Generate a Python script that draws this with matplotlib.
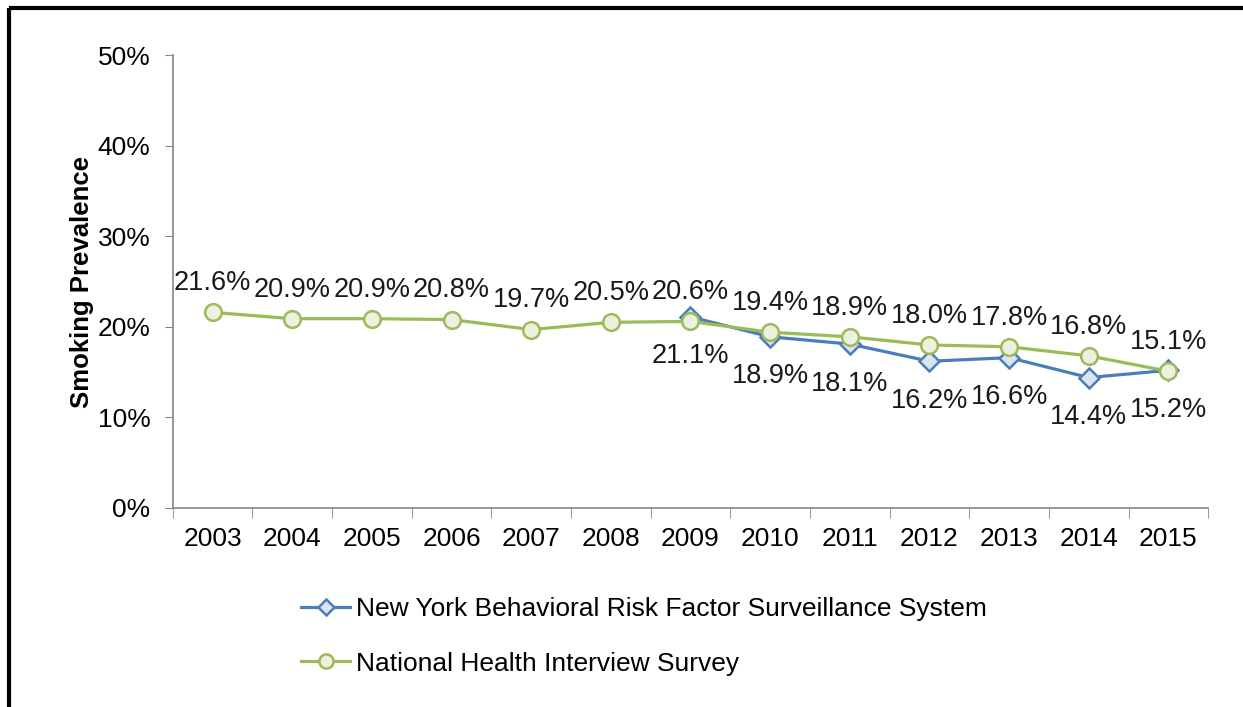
import numpy as np
import matplotlib.pyplot as plt
from matplotlib.lines import Line2D

years = ['2003', '2004', '2005', '2006', '2007', '2008', '2009',
         '2010', '2011', '2012', '2013', '2014', '2015']
nhis = [21.6, 20.9, 20.9, 20.8, 19.7, 20.5, 20.6, 19.4, 18.9, 18.0, 17.8, 16.8, 15.1]
ny_years = ['2009', '2010', '2011', '2012', '2013', '2014', '2015']
ny_brfss = [21.1, 18.9, 18.1, 16.2, 16.6, 14.4, 15.2]

ny_label = 'New York Behavioral Risk Factor Surveillance System'
nhis_label = 'National Health Interview Survey'

plt.rcParams['font.family'] = ['Liberation Sans', 'DejaVu Sans']

fig = plt.figure(figsize=(12.43, 7.07), dpi=100)
ax = fig.add_axes([0.139, 0.2815, 0.833, 0.6405])

x = np.arange(len(years))
ny_x = [years.index(y) for y in ny_years]

ax.plot(ny_x, ny_brfss, color='#4a7ebb', lw=2.3, marker='D', ms=10,
        mfc='#dbe5f1', mec='#4a7ebb', mew=1.8, label=ny_label, zorder=3)
ax.plot(x, nhis, color='#9bbb59', lw=2.3, marker='o', ms=12,
        mfc='#ebf1de', mec='#9bbb59', mew=1.8, label=nhis_label, zorder=4)

for xi, v in zip(x, nhis):
    ax.annotate(f'{v:.1f}%', (xi, v), xytext=(0, 21), textcoords='offset points',
                ha='center', va='center', fontsize=19.5, color='#1a1a1a')
for xi, v in zip(ny_x, ny_brfss):
    ax.annotate(f'{v:.1f}%', (xi, v), xytext=(0, -28.5), textcoords='offset points',
                ha='center', va='center', fontsize=19.5, color='#1a1a1a')

ax.set_xlim(-0.5, len(years) - 0.5)
ax.set_ylim(0, 50)
ax.set_yticks(range(0, 51, 10))
ax.set_yticklabels([f'{t}%' for t in range(0, 51, 10)])
ax.set_xticks(x)
ax.set_xticklabels(years)
ax.set_xticks(np.arange(-0.5, len(years)), minor=True)
ax.tick_params(axis='x', which='major', length=0, pad=14, labelsize=19)
ax.tick_params(axis='x', which='minor', length=7, color='#868686', direction='out')
ax.tick_params(axis='y', length=6, color='#868686', labelsize=19, pad=10)

for s in ['top', 'right']:
    ax.spines[s].set_visible(False)
for s in ['left', 'bottom']:
    ax.spines[s].set_color('#868686')
    ax.spines[s].set_linewidth(1.2)

ax.set_ylabel('Smoking Prevalence', fontsize=18.5, fontweight='bold', labelpad=3)

leg = fig.legend(loc='upper left', bbox_to_anchor=(0.234, 0.170), frameon=False,
                 fontsize=19, handlelength=1.85, handletextpad=0.2, labelspacing=1.15,
                 borderaxespad=0, markerscale=0.85)

fig.add_artist(Line2D([0.0076, 1.0], [0.988, 0.988], color='black', lw=3,
                      transform=fig.transFigure, solid_capstyle='butt'))
fig.add_artist(Line2D([0.0076, 0.0076], [0.0, 0.988], color='black', lw=3,
                      transform=fig.transFigure, solid_capstyle='butt'))

fig.savefig('out.png', dpi=100)
